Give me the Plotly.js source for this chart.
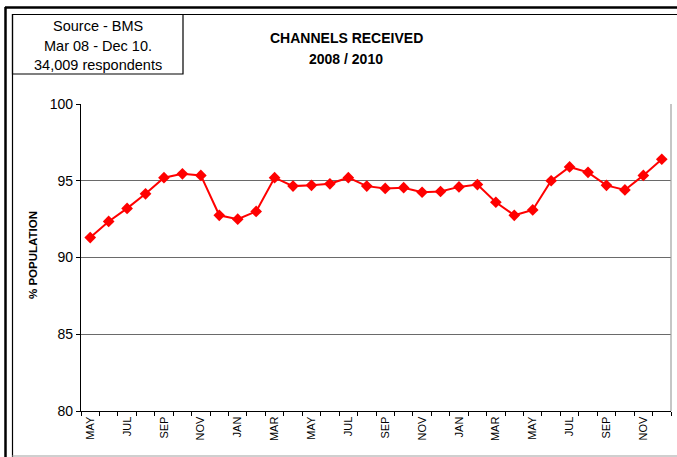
<!DOCTYPE html>
<html>
<head>
<meta charset="utf-8">
<script src="https://cdn.plot.ly/plotly-3.0.1.min.js"></script>
<style>
  html, body { margin: 0; padding: 0; background: #ffffff; }
  #chart { width: 677px; height: 457px; }
</style>
</head>
<body>
<div id="chart"></div>
<script>
// ---- data ----
const months = ["May 08","Jun 08","Jul 08","Aug 08","Sep 08","Oct 08","Nov 08","Dec 08",
                "Jan 09","Feb 09","Mar 09","Apr 09","May 09","Jun 09","Jul 09","Aug 09",
                "Sep 09","Oct 09","Nov 09","Dec 09","Jan 10","Feb 10","Mar 10","Apr 10",
                "May 10","Jun 10","Jul 10","Aug 10","Sep 10","Oct 10","Nov 10","Dec 10"];
const tickLabels = ["MAY","","JUL","","SEP","","NOV","","JAN","","MAR","","MAY","","JUL","",
                    "SEP","","NOV","","JAN","","MAR","","MAY","","JUL","","SEP","","NOV",""];
const population = [91.3, 92.35, 93.2, 94.15, 95.2, 95.45, 95.35, 92.75,
                    92.5, 93.0, 95.2, 94.65, 94.7, 94.8, 95.2, 94.65,
                    94.5, 94.55, 94.25, 94.3, 94.6, 94.75, 93.6, 92.75,
                    93.1, 95.0, 95.9, 95.55, 94.7, 94.4, 95.35, 96.4];
const titleLines = ["CHANNELS RECEIVED", "2008 / 2010"];
const sourceLines = ["Source - BMS", "Mar 08 - Dec 10.", "34,009 respondents"];
const yTitle = "% POPULATION";

// ---- geometry helpers (pixel -> paper) ----
const W = 677, H = 457;
const M = {l: 81, r: 6, t: 104, b: 46};
const PW = W - M.l - M.r, PH = H - M.t - M.b;
const px = x => (x - M.l) / PW;
const py = y => (H - M.b - y) / PH;

const FONT = "Liberation Sans, Arial, sans-serif";

const trace = {
  type: "scatter",
  mode: "lines+markers",
  x: months,
  y: population,
  line: {color: "#ff0000", width: 2},
  marker: {symbol: "diamond", size: 9, color: "#ff0000"},
  hoverinfo: "skip"
};

const shapes = [
  // outer thick frame (top & left)
  {type:"line", xref:"paper", yref:"paper", x0:px(5.5), x1:px(5.5), y0:py(7), y1:py(457), line:{color:"#000", width:2.5}},
  {type:"line", xref:"paper", yref:"paper", x0:px(5), x1:px(677), y0:py(7.5), y1:py(7.5), line:{color:"#000", width:2.5}},
  // inner frame (top & left)
  {type:"line", xref:"paper", yref:"paper", x0:px(12.5), x1:px(12.5), y0:py(14), y1:py(457), line:{color:"#000", width:1.2}},
  {type:"line", xref:"paper", yref:"paper", x0:px(12), x1:px(677), y0:py(14.5), y1:py(14.5), line:{color:"#000", width:1.2}},
  // bottom gray line
  {type:"line", xref:"paper", yref:"paper", x0:px(12), x1:px(677), y0:py(456), y1:py(456), line:{color:"#a0a0a0", width:1.2}},
  // source box
  {type:"rect", xref:"paper", yref:"paper", x0:px(12.5), x1:px(183), y0:py(14.5), y1:py(74), line:{color:"#000", width:1.2}},
  // right plot border
  {type:"line", xref:"paper", yref:"paper", x0:1, x1:1, y0:0, y1:1, line:{color:"#a0a0a0", width:1.2}}
];

const annotations = [
  {text:"<b>"+titleLines[0]+"</b>", xref:"paper", yref:"paper", x:px(346), y:py(38), xanchor:"center", yanchor:"middle", showarrow:false, font:{family:FONT, size:14, color:"#000"}},
  {text:"<b>"+titleLines[1]+"</b>", xref:"paper", yref:"paper", x:px(346), y:py(59), xanchor:"center", yanchor:"middle", showarrow:false, font:{family:FONT, size:14, color:"#000"}},
  {text:sourceLines[0], xref:"paper", yref:"paper", x:px(98), y:py(26), xanchor:"center", yanchor:"middle", showarrow:false, font:{family:FONT, size:14.5, color:"#000"}},
  {text:sourceLines[1], xref:"paper", yref:"paper", x:px(98), y:py(46), xanchor:"center", yanchor:"middle", showarrow:false, font:{family:FONT, size:14.5, color:"#000"}},
  {text:sourceLines[2], xref:"paper", yref:"paper", x:px(98), y:py(65), xanchor:"center", yanchor:"middle", showarrow:false, font:{family:FONT, size:14.5, color:"#000"}},
  {text:"<b>"+yTitle+"</b>", xref:"paper", yref:"paper", x:px(33), y:py(255), xanchor:"center", yanchor:"middle", textangle:-90, showarrow:false, font:{family:FONT, size:11.5, color:"#000"}}
];

const layout = {
  width: W, height: H,
  margin: M,
  paper_bgcolor: "#ffffff",
  plot_bgcolor: "#ffffff",
  showlegend: false,
  font: {family: FONT, color: "#000"},
  xaxis: {
    type: "category",
    tickmode: "array",
    tickvals: months,
    ticktext: tickLabels,
    tickson: "boundaries",
    ticks: "outside",
    ticklen: 4,
    tickcolor: "#000",
    tickangle: -90,
    tickfont: {family: FONT, size: 11, color: "#000"},
    showgrid: false,
    showline: true,
    linecolor: "#000",
    linewidth: 1.2,
    zeroline: false,
    range: [-0.5, months.length - 0.5],
    fixedrange: true
  },
  yaxis: {
    range: [80, 100],
    dtick: 5,
    tick0: 80,
    ticks: "outside",
    ticklen: 4,
    tickcolor: "#000",
    tickfont: {family: FONT, size: 14, color: "#000"},
    showgrid: true,
    gridcolor: "#6a6a6a",
    gridwidth: 1,
    showline: true,
    linecolor: "#000",
    linewidth: 1.2,
    zeroline: false,
    fixedrange: true
  },
  shapes: shapes,
  annotations: annotations
};

Plotly.newPlot("chart", [trace], layout, {displayModeBar: false, staticPlot: true});
</script>
</body>
</html>
